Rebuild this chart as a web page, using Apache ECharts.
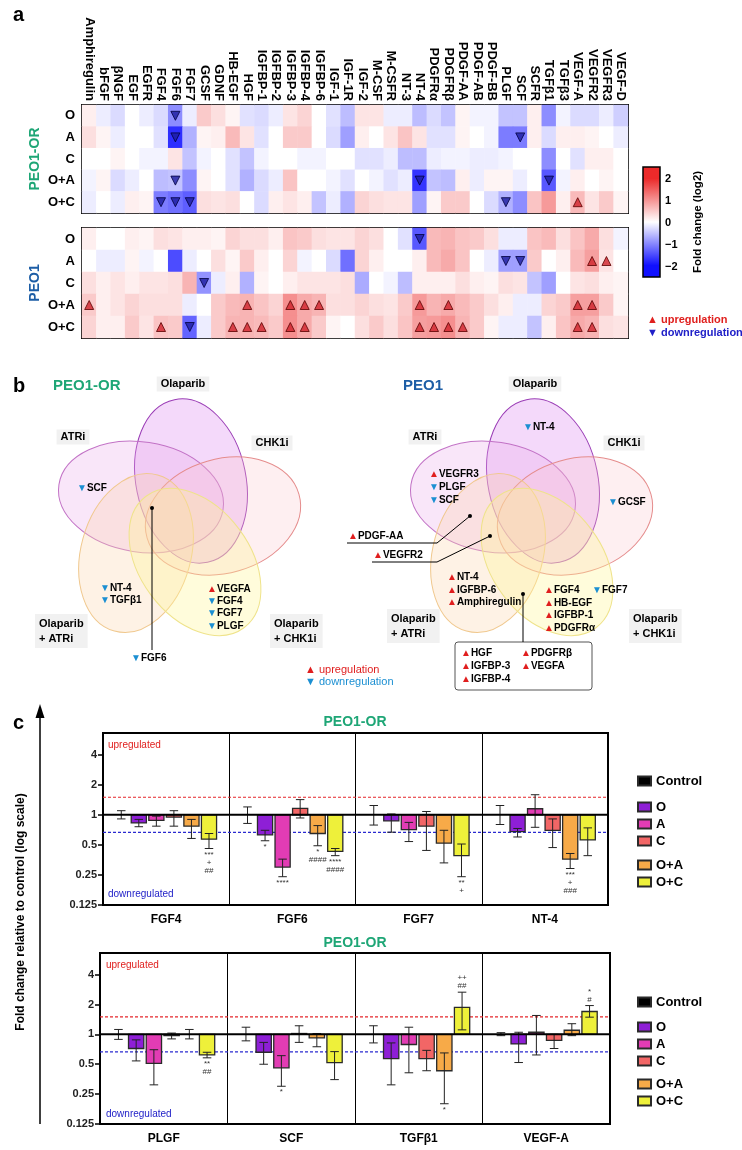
<!DOCTYPE html>
<html>
<head>
<meta charset="utf-8">
<script src="https://cdn.jsdelivr.net/npm/echarts@6/dist/echarts.min.js"></script>
<style>
  html, body { margin: 0; padding: 0; background: #fff; }
  #main { width: 742px; height: 1150px; }
</style>
</head>
<body>
<div id="main"></div>
<script>
// ---------------- data: panel a (log2 fold change) ----------------
var factors = ['Amphiregulin', 'bFGF', 'βNGF', 'EGF', 'EGFR', 'FGF4', 'FGF6', 'FGF7', 'GCSF', 'GDNF',
  'HB-EGF', 'HGF', 'IGFBP-1', 'IGFBP-2', 'IGFBP-3', 'IGFBP-4', 'IGFBP-6', 'IGF-1', 'IGF-1R', 'IGF-2',
  'M-CSF', 'M-CSFR', 'NT-3', 'NT-4', 'PDGFRα', 'PDGFRβ', 'PDGF-AA', 'PDGF-AB', 'PDGF-BB', 'PLGF',
  'SCF', 'SCFR', 'TGFβ1', 'TGFβ3', 'VEGF-A', 'VEGFR2', 'VEGFR3', 'VEGF-D'];
var treatments = ['O', 'A', 'C', 'O+A', 'O+C'];

var peo1orFC = [
  [0.15,-0.15,-0.3,0,-0.15,-0.3,-0.95,-0.15,0.5,0.3,0.1,-0.25,-0.3,-0.15,0.25,0.4,0,-0.25,-0.55,0.25,0.25,-0.15,-0.15,-0.55,-0.3,-0.5,0.1,-0.1,-0.1,-0.5,-0.5,0.15,-0.95,-0.1,-0.3,-0.3,-0.15,-0.4],
  [0.3,0.1,-0.15,0,0,-0.25,-1.75,-0.65,0.1,0.15,0.65,0.25,-0.25,0,0.5,0.5,0,-0.3,-0.8,0.15,0,0.25,0.55,0.25,-0.25,-0.25,0.1,0,-0.1,-1.1,-1.1,0.15,-0.3,0.15,0.15,0.1,0,-0.15],
  [0,0,0.1,0,-0.1,-0.1,0.25,-0.5,-0.1,0,-0.25,-0.5,-0.1,0,0,-0.1,-0.1,0,0,-0.25,-0.25,-0.15,-0.55,-0.55,-0.15,-0.1,-0.1,-0.15,-0.15,-0.1,0,0,-0.95,0,-0.25,0.15,0.15,0],
  [-0.1,0.1,-0.3,-0.15,0,-0.55,-0.5,-0.95,0.1,0,-0.25,-0.65,-0.3,-0.15,0.55,0,0,-0.1,-0.25,0,-0.1,-0.25,-0.15,-1.7,-0.5,-0.55,0.15,-0.15,0.1,0.1,-0.15,0,-1.4,-0.1,0.15,0,0.1,0],
  [-0.15,0,-0.15,0.15,0.1,-1.1,-1.2,-1.35,0.3,0.25,0.3,0,-0.3,0.15,0.25,0.15,-0.5,-0.15,-0.65,0.4,0.3,0.25,0.25,-0.8,0.1,0.5,0.5,0,-0.3,-0.65,-0.95,0.55,0.95,0.15,0.65,0.25,0.5,0.1]
];
var peo1FC = [
  [0.15,0,0,0.15,0.1,0.3,0.25,0.15,0.15,0.1,0.4,0.3,0.3,0.15,0.55,0.5,0.3,0.25,0.25,0.4,0.3,0,-0.25,-1.4,0.65,0.7,0.55,0.5,0.3,-0.15,-0.15,0.55,0.65,0.3,0.55,0.8,0.3,-0.1],
  [0,-0.15,-0.15,0.1,-0.1,0,-1.5,-0.15,0,0.3,0.1,0.5,0.15,0,0.4,-0.1,0,-0.3,-1.2,0.4,0.15,0,0,0.15,0.65,0.8,0.55,0,-0.15,-0.8,-0.8,0.5,0,0.15,0.65,0.9,0.25,0],
  [0.3,0.15,0.25,0.15,0.25,0.25,0.3,0.7,-0.9,-0.15,0.15,-0.65,0.1,0,0.15,0.25,0.25,0.25,0.3,-0.7,0,-0.1,-0.55,0.15,0.15,0.15,0.3,0.15,0.1,0.3,0.25,-0.5,-0.8,0,0.25,0.3,0.15,0.1],
  [0.5,0.15,0.25,0.4,0.3,0.3,0.3,-0.15,0,0.5,0.65,0.7,0.55,0.4,1.05,0.8,0.7,0.3,0.3,0.4,0.3,0.25,0.5,0.95,0.7,0.8,0.65,0.5,0.3,0.15,-0.15,-0.15,0.4,0.5,0.9,0.9,0.5,0.1],
  [0.4,0.15,0.15,0.5,0.25,0.55,0.5,-1.3,-0.15,0.5,0.7,0.7,0.65,0.5,1.05,0.8,0.5,0.1,0,0.3,0.5,0.3,0.55,0.9,0.95,1.05,0.7,0.5,0.1,-0.15,-0.15,-0.5,0.15,0.55,0.8,0.7,0.3,0.25]
];
// significant changes, [factor index, treatment index]
var peo1orUp = [[34,4]];
var peo1orDown = [[6,0],[6,1],[30,1],[6,3],[23,3],[32,3],[5,4],[6,4],[7,4],[29,4]];
var peo1Up = [[35,1],[36,1],[0,3],[11,3],[14,3],[15,3],[16,3],[23,3],[25,3],[34,3],[35,3],
  [5,4],[10,4],[11,4],[12,4],[14,4],[15,4],[23,4],[24,4],[25,4],[26,4],[34,4],[35,4]];
var peo1Down = [[23,0],[29,1],[30,1],[8,2],[7,4]];
var cbarTicks = ['2', '1', '0', '−1', '−2'];
var cbarColors = ['#ec2a2a', '#ffffff', '#1010ff'];

// ---------------- data: panel c (fold change vs control) ----------------
var groups = ['Control', 'O', 'A', 'C', 'O+A', 'O+C'];
var groupColors = ['#000000', '#8e1fd6', '#e23cb4', '#f26666', '#f7aa48', '#eef03a'];
var topGenes = ['FGF4', 'FGF6', 'FGF7', 'NT-4'];
var topMean = [[1,1,1,1],[0.83,0.63,0.87,0.68],[0.88,0.3,0.71,1.15],[0.95,1.16,0.77,0.7],[0.77,0.65,0.52,0.36],[0.57,0.43,0.39,0.56]];
var topLow  = [[0.91,0.82,0.79,0.8],[0.76,0.55,0.67,0.6],[0.77,0.24,0.54,0.75],[0.77,0.93,0.44,0.47],[0.58,0.49,0.33,0.29],[0.46,0.39,0.24,0.39]];
var topHigh = [[1.1,1.2,1.24,1.24],[0.9,0.7,1.02,0.73],[0.97,0.36,0.84,1.59],[1.1,1.42,1.08,0.91],[0.9,0.78,0.7,0.41],[0.65,0.46,0.51,0.74]];
var topNotes = [[0,5,'***\n+\n##'],[1,1,'*'],[1,2,'****'],[1,4,'*\n####'],[1,5,'****\n####'],[2,5,'**\n+'],[3,4,'***\n+\n###']];
var botGenes = ['PLGF', 'SCF', 'TGFβ1', 'VEGF-A'];
var botMean = [[1,1,1,1],[0.72,0.66,0.57,0.8],[0.51,0.46,0.79,1.05],[0.97,1.02,0.57,0.87],[1.0,0.92,0.43,1.1],[0.62,0.52,1.87,1.7]];
var botLow  = [[0.89,0.86,0.82,0.97],[0.54,0.5,0.31,0.52],[0.31,0.3,0.41,0.62],[0.9,0.83,0.43,0.72],[0.9,0.75,0.2,0.97],[0.58,0.35,1.11,1.49]];
var botHigh = [[1.12,1.18,1.22,1.04],[0.88,0.83,0.82,1.05],[0.7,0.61,1.18,1.55],[1.03,1.22,0.69,1.0],[1.12,1.02,0.65,1.28],[0.66,0.67,2.66,1.95]];
var botNotes = [[0,5,'**\n##'],[1,2,'*'],[2,4,'*'],[2,5,'++\n##'],[3,5,'*\n#']];
var refLevels = [1.5, 0.667];   // up / down thresholds
var baseLevel = [1];

// ---------------- helpers ----------------
var FONT = 'Arial, "Liberation Sans", Helvetica, sans-serif';
var GREEN = '#1ea676', BLUE = '#1d5ea6';
var UPC = '#e01e1e', DNC = '#1b8fd2';

function cells(m) {
  var out = [];
  m.forEach(function (row, r) { row.forEach(function (v, c) { out.push([c, r, v]); }); });
  return out;
}

function txt(x, y, s, o) {
  o = o || {};
  return {
    type: 'text', x: x, y: y, rotation: o.rot || 0, z: 20,
    style: {
      text: s, fill: o.color || '#000', fontSize: o.size || 11, fontWeight: o.weight || 'bold',
      fontFamily: FONT, align: o.align || 'left', verticalAlign: o.va || 'middle',
      backgroundColor: o.bg, padding: o.pad, lineHeight: o.lh, rich: o.rich
    }
  };
}

// venn item with coloured triangle
function tag(x, y, dir, name) {
  return txt(x, y, (dir > 0 ? '{u|▲}' : '{d|▼}') + name, {
    size: 10,
    rich: {
      u: { fill: UPC, fontSize: 10, fontFamily: FONT },
      d: { fill: DNC, fontSize: 10, fontFamily: FONT }
    }
  });
}

var heatXAxis = function (gi, show) {
  return {
    type: 'category', gridIndex: gi, data: factors, position: 'top',
    axisLine: { show: false }, axisTick: { show: false }, splitLine: { show: false },
    axisLabel: { show: show, rotate: 90, interval: 0, fontSize: 13, fontWeight: 'bold', color: '#000', margin: 4, fontFamily: FONT }
  };
};
var heatYAxis = function (gi) {
  return {
    type: 'category', gridIndex: gi, data: treatments, inverse: true,
    axisLine: { show: false }, axisTick: { show: false },
    axisLabel: { fontSize: 13, fontWeight: 'bold', color: '#000', margin: 7, fontFamily: FONT }
  };
};
var barXAxis = function (gi, genes) {
  return {
    type: 'category', gridIndex: gi, data: genes,
    axisLine: { show: false }, axisTick: { show: false },
    splitLine: { show: true, lineStyle: { color: '#000', width: 1 } },
    axisLabel: { fontSize: 12, fontWeight: 'bold', color: '#000', margin: 9, fontFamily: FONT }
  };
};
var barYAxis = function (gi) {
  return {
    type: 'log', logBase: 2, gridIndex: gi, min: 0.125, max: 6.6,
    axisLine: { show: true, lineStyle: { color: '#000', width: 2 } },
    axisTick: { show: true, length: 5, lineStyle: { color: '#000', width: 1.5 } },
    splitLine: { show: false }, minorTick: { show: false },
    axisLabel: { fontSize: 11, fontWeight: 'bold', color: '#222', margin: 6, fontFamily: FONT, showMaxLabel: false }
  };
};

function barRender(slot, notes) {
  return function (params, api) {
    var g = api.value(0), m = api.value(1), lo = api.value(2), hi = api.value(3);
    var band = api.size([1, 1], [g, 1])[0];
    var base = api.coord([g, 1]);
    var cx = base[0] + (slot - 2.5) * band * 0.139 - 1;
    var w = band * 0.12;
    var ym = api.coord([g, m])[1], yl = api.coord([g, lo])[1], yh = api.coord([g, hi])[1];
    var cap = w * 0.28;
    var kids = [];
    if (Math.abs(ym - base[1]) > 0.5) {
      kids.push({ type: 'rect', shape: { x: cx - w / 2, y: Math.min(ym, base[1]), width: w, height: Math.abs(ym - base[1]) },
        style: { fill: api.visual('color'), stroke: '#2a2a2a', lineWidth: 1.3 } });
    }
    var es = { stroke: '#222', lineWidth: 1 };
    kids.push({ type: 'line', shape: { x1: cx, y1: yl, x2: cx, y2: yh }, style: es });
    kids.push({ type: 'line', shape: { x1: cx - cap, y1: yl, x2: cx + cap, y2: yl }, style: es });
    kids.push({ type: 'line', shape: { x1: cx - cap, y1: yh, x2: cx + cap, y2: yh }, style: es });
    notes.forEach(function (n) {
      if (n[0] === g && n[1] === slot) {
        var up = m > 1;
        kids.push({ type: 'text', style: { text: n[2], x: cx, y: up ? yh - 2 : yl + 2, align: 'center',
          verticalAlign: up ? 'bottom' : 'top', fontSize: 8, lineHeight: 8, fill: '#333', fontFamily: FONT } });
      }
    });
    return { type: 'group', children: kids };
  };
}

// horizontal reference lines across the plot, positioned by the log axis
function refSeries(axisIdx, levels, styles, z) {
  return {
    type: 'custom', xAxisIndex: axisIdx, yAxisIndex: axisIdx, silent: true, z: z,
    data: levels.map(function (v, i) { return [0, v, i]; }),
    renderItem: function (params, api) {
      var cs = params.coordSys;
      var y = api.coord([0, api.value(1)])[1];
      return { type: 'line', shape: { x1: cs.x, y1: y, x2: cs.x + cs.width, y2: y }, style: styles[api.value(2)] };
    }
  };
}
var dashStyles = [
  { stroke: '#e5262a', lineWidth: 1.2, lineDash: [3, 2] },
  { stroke: '#2a2ad0', lineWidth: 1.2, lineDash: [3, 2] }
];
var baseStyles = [{ stroke: '#000', lineWidth: 2 }];

function barSeries(axisIdx, genes, mean, low, high, notes) {
  return groups.map(function (name, s) {
    return {
      type: 'custom', name: name, xAxisIndex: axisIdx, yAxisIndex: axisIdx,
      itemStyle: { color: groupColors[s], borderColor: '#2a2a2a', borderWidth: 1.2 },
      renderItem: barRender(s, notes),
      data: genes.map(function (gname, g) { return [g, mean[s][g], low[s][g], high[s][g]]; }),
      z: 2
    };
  }).concat([refSeries(axisIdx, refLevels, dashStyles, 1), refSeries(axisIdx, baseLevel, baseStyles, 6)]);
}

function legends(top1, top2, top3) {
  var common = { orient: 'vertical', left: 632, icon: 'rect', itemWidth: 13, itemHeight: 9, itemGap: 3,
    selectedMode: false, textStyle: { fontSize: 13, fontWeight: 'bold', color: '#000', fontFamily: FONT, lineHeight: 14 } };
  return [
    Object.assign({ top: top1, data: ['Control'] }, common),
    Object.assign({ top: top2, data: ['O', 'A', 'C'] }, common),
    Object.assign({ top: top3, data: ['O+A', 'O+C'] }, common)
  ];
}

// ---------------- venn diagrams (panel b) ----------------
var vennSets = [
  { cx: 191, cy: 481, rx: 55, ry: 83, rot: 0.2, stroke: '#9a3cb6', fill: 'rgba(222,140,240,0.33)' },
  { cx: 141, cy: 497, rx: 83, ry: 55, rot: -0.15, stroke: '#c272c6', fill: 'rgba(236,172,236,0.30)' },
  { cx: 223, cy: 516, rx: 79, ry: 57, rot: 0.28, stroke: '#e58c8c', fill: 'rgba(250,196,206,0.28)' },
  { cx: 136, cy: 553, rx: 55, ry: 81, rot: -0.27, stroke: '#f0c88e', fill: 'rgba(252,212,168,0.30)' },
  { cx: 195, cy: 562, rx: 55, ry: 82, rot: 0.64, stroke: '#efe38a', fill: 'rgba(255,246,150,0.34)' }
];

function vennShapes(ox) {
  return vennSets.map(function (e) {
    return { type: 'ellipse', x: e.cx + ox, y: e.cy, rotation: e.rot, z: 5,
      shape: { cx: 0, cy: 0, rx: e.rx, ry: e.ry },
      style: { fill: e.fill, stroke: e.stroke, lineWidth: 1 } };
  });
}

function vennLabels(ox, dyA, xA, xC) {
  var o = { bg: '#f1f1f1', pad: [2, 4], size: 11 };
  return [
    txt(183 + ox, 384, 'Olaparib', Object.assign({ align: 'center' }, o)),
    txt(73 + ox, 437, 'ATRi', Object.assign({ align: 'center' }, o)),
    txt(272 + ox, 443, 'CHK1i', Object.assign({ align: 'center' }, o)),
    txt(xA, 631 + dyA, 'Olaparib\n+ ATRi', Object.assign({ lh: 15 }, o)),
    txt(xC, 631 + dyA, 'Olaparib\n+ CHK1i', Object.assign({ lh: 15 }, o))
  ];
}

function dot(x, y) { return { type: 'circle', z: 21, shape: { cx: x, cy: y, r: 2 }, style: { fill: '#000' } }; }
function path(pts) { return { type: 'polyline', z: 21, shape: { points: pts }, style: { stroke: '#000', lineWidth: 1, fill: null } }; }

var graphics = [
  txt(13, 15, 'a', { size: 20 }),
  txt(13, 386, 'b', { size: 20 }),
  txt(13, 723, 'c', { size: 20 }),
  // panel a
  txt(35, 159, 'PEO1-OR', { color: GREEN, size: 14, rot: Math.PI / 2, align: 'center' }),
  txt(35, 283, 'PEO1', { color: BLUE, size: 14, rot: Math.PI / 2, align: 'center' }),
  { type: 'rect', z: 21, shape: { x: 643, y: 167, width: 17, height: 110 },
    style: { stroke: '#000', lineWidth: 1.5, fill: { type: 'linear', x: 0, y: 0, x2: 0, y2: 1, colorStops: [
      { offset: 0, color: cbarColors[0] }, { offset: 0.11, color: cbarColors[0] },
      { offset: 0.5, color: cbarColors[1] },
      { offset: 0.89, color: cbarColors[2] }, { offset: 1, color: cbarColors[2] }] } } },
  txt(698, 222, 'Fold change (log2)', { rot: Math.PI / 2, align: 'center', size: 11.5 }),
  txt(647, 320, '▲ upregulation', { color: '#e0201e', size: 11 }),
  txt(647, 333, '▼ downregulation', { color: '#2020c8', size: 11 }),
  // panel b
  txt(53, 386, 'PEO1-OR', { color: GREEN, size: 15 }),
  txt(403, 386, 'PEO1', { color: BLUE, size: 15 }),
  txt(305, 670, '▲ upregulation', { color: UPC, size: 11, weight: 'normal' }),
  txt(305, 682, '▼ downregulation', { color: DNC, size: 11, weight: 'normal' }),
  // panel c
  txt(355, 722, 'PEO1-OR', { color: GREEN, size: 14, align: 'center' }),
  txt(355, 943, 'PEO1-OR', { color: GREEN, size: 14, align: 'center' }),
  txt(108, 745, 'upregulated', { color: '#e0201e', size: 10, weight: 'normal' }),
  txt(108, 894, 'downregulated', { color: '#2222c8', size: 10, weight: 'normal' }),
  txt(106, 965, 'upregulated', { color: '#e0201e', size: 10, weight: 'normal' }),
  txt(106, 1114, 'downregulated', { color: '#2222c8', size: 10, weight: 'normal' }),
  txt(21, 912, 'Fold change relative to control (log scale)', { rot: Math.PI / 2, align: 'center', size: 12 }),
  { type: 'line', z: 21, shape: { x1: 40, y1: 1124, x2: 40, y2: 716 }, style: { stroke: '#000', lineWidth: 1.5 } },
  { type: 'polygon', z: 21, shape: { points: [[35.5, 718], [44.5, 718], [40, 704]] }, style: { fill: '#000' } }
];
cbarTicks.forEach(function (t, i) { graphics.push(txt(665, 179 + i * 22, t, { size: 11 })); });
graphics = graphics.concat(vennShapes(0), vennShapes(352), vennLabels(0, 0, 35, 270), vennLabels(352, -5, 387, 629));
graphics.push(
  // PEO1-OR venn
  tag(77, 488, -1, 'SCF'),
  tag(100, 588, -1, 'NT-4'), tag(100, 600, -1, 'TGFβ1'),
  tag(207, 589, 1, 'VEGFA'), tag(207, 601, -1, 'FGF4'), tag(207, 613, -1, 'FGF7'), tag(207, 626, -1, 'PLGF'),
  dot(152, 508), path([[152, 508], [152, 650]]), tag(131, 658, -1, 'FGF6'),
  // PEO1 venn
  tag(523, 427, -1, 'NT-4'),
  tag(429, 474, 1, 'VEGFR3'), tag(429, 487, -1, 'PLGF'), tag(429, 500, -1, 'SCF'),
  tag(608, 502, -1, 'GCSF'),
  dot(470, 516), path([[470, 516], [437, 543], [347, 543]]), tag(348, 536, 1, 'PDGF-AA'),
  dot(490, 536), path([[490, 536], [437, 562], [372, 562]]), tag(373, 555, 1, 'VEGFR2'),
  tag(447, 577, 1, 'NT-4'), tag(447, 590, 1, 'IGFBP-6'), tag(447, 602, 1, 'Amphiregulin'),
  tag(544, 590, 1, 'FGF4'), tag(544, 603, 1, 'HB-EGF'), tag(544, 615, 1, 'IGFBP-1'), tag(544, 628, 1, 'PDGFRα'),
  tag(592, 590, -1, 'FGF7'),
  dot(523, 594), path([[523, 594], [523, 642]]),
  { type: 'rect', z: 20, shape: { x: 455, y: 642, width: 137, height: 48, r: 3 }, style: { fill: '#fff', stroke: '#555', lineWidth: 1 } },
  tag(461, 653, 1, 'HGF'), tag(521, 653, 1, 'PDGFRβ'),
  tag(461, 666, 1, 'IGFBP-3'), tag(521, 666, 1, 'VEGFA'),
  tag(461, 679, 1, 'IGFBP-4')
);

// ---------------- option ----------------
var chart = echarts.init(document.getElementById('main'));
var gridBox = { show: true, borderColor: '#000', borderWidth: 2, backgroundColor: '#fff' };

var series = [
  { type: 'heatmap', xAxisIndex: 0, yAxisIndex: 0, data: cells(peo1orFC), itemStyle: { borderWidth: 0 } },
  { type: 'heatmap', xAxisIndex: 1, yAxisIndex: 1, data: cells(peo1FC), itemStyle: { borderWidth: 0 } }
];
[[0, peo1orUp, 1], [0, peo1orDown, -1], [1, peo1Up, 1], [1, peo1Down, -1]].forEach(function (m) {
  series.push({
    type: 'scatter', xAxisIndex: m[0], yAxisIndex: m[0], data: m[1], symbol: 'triangle',
    symbolRotate: m[2] > 0 ? 0 : 180, symbolSize: 9, z: 4,
    itemStyle: m[2] > 0 ? { color: '#d0222a', borderColor: '#5a0000', borderWidth: 1 }
                        : { color: '#1c1c9e', borderColor: '#000040', borderWidth: 1 }
  });
});
series = series.concat(barSeries(2, topGenes, topMean, topLow, topHigh, topNotes),
                       barSeries(3, botGenes, botMean, botLow, botHigh, botNotes));

chart.setOption({
  animation: false,
  backgroundColor: '#fff',
  textStyle: { fontFamily: FONT },
  grid: [
    Object.assign({ left: 82, top: 105, width: 546, height: 108 }, gridBox),
    Object.assign({ left: 82, top: 228, width: 546, height: 110 }, gridBox),
    Object.assign({ left: 103, top: 733, width: 505, height: 172 }, gridBox),
    Object.assign({ left: 100, top: 953, width: 510, height: 171 }, gridBox)
  ],
  xAxis: [heatXAxis(0, true), heatXAxis(1, false), barXAxis(2, topGenes), barXAxis(3, botGenes)],
  yAxis: [heatYAxis(0), heatYAxis(1), barYAxis(2), barYAxis(3)],
  visualMap: {
    type: 'continuous', show: false, min: -2, max: 2, seriesIndex: [0, 1],
    inRange: { color: cbarColors.slice().reverse() }
  },
  legend: legends(769, 795, 853).concat(legends(990, 1015, 1072)),
  graphic: graphics,
  series: series
});
</script>
</body>
</html>
